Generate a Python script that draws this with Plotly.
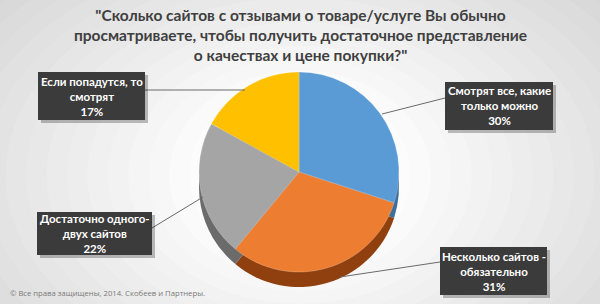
import plotly.graph_objects as go

W, H = 600, 304

categories = ["Смотрят все, какие<br>только можно", "Несколько сайтов -<br>обязательно",
              "Достаточно одного-<br>двух сайтов", "Если попадутся, то<br>смотрят"]
values = [30, 31, 22, 17]
colors = ["#5B9BD5", "#ED7D31", "#A5A5A5", "#FFC000"]
side_colors = ["#3e6f9c", "#8f400e", "#6b6b6b", "#a87f00"]
title_lines = ["\"Сколько сайтов с отзывами о товаре/услуге Вы обычно",
               "просматриваете, чтобы получить достаточное представление",
               "о качествах и цене покупки?\""]
footer = "© Все права защищены, 2014. Скобеев и Партнеры."

def px(x):
    return x / W

def py(y):
    return 1 - y / H

cx, cy, r, depth = 299, 172, 100, 15

fig = go.Figure()
# 3D side (shadow pie)
fig.add_trace(go.Pie(values=values, labels=categories, sort=False, direction="clockwise", rotation=0,
                     marker=dict(colors=side_colors, line=dict(width=0)), textinfo="none",
                     hoverinfo="skip", showlegend=False,
                     domain=dict(x=[px(cx - r), px(cx + r)], y=[py(cy + depth + r), py(cy + depth - r)])))
fig.add_trace(go.Pie(values=values, labels=categories, sort=False, direction="clockwise", rotation=0,
                     marker=dict(colors=colors, line=dict(width=0.6, color="rgba(255,255,255,0.35)")),
                     textinfo="none", hoverinfo="label+percent", showlegend=False,
                     domain=dict(x=[px(cx - r), px(cx + r)], y=[py(cy + r), py(cy - r)])))

shapes = []
# radial background gradient
N = 24
for i in range(N):
    t = i / (N - 1)
    rx = 560 - t * 470
    ry = 360 - t * 280
    c = int(0xc6 + (0xff - 0xc6) * t)
    col = f"rgb({c},{c},{c})"
    shapes.append(dict(type="circle", xref="paper", yref="paper", layer="below",
                       x0=px(300 - rx), x1=px(300 + rx), y0=py(175 + ry), y1=py(175 - ry),
                       fillcolor=col, line=dict(width=0)))

# leader lines
leaders = [((445, 98), (382, 114)), ((440, 262), (340, 277)),
           ((152, 228), (203, 197)), ((145, 90), (245, 90))]
for (x0, y0), (x1, y1) in leaders:
    shapes.append(dict(type="line", xref="paper", yref="paper", x0=px(x0), y0=py(y0), x1=px(x1), y1=py(y1),
                       line=dict(color="#6a6a6a", width=1)))

# label boxes: (x0, y0, x1, y1)
boxes = [(445, 82, 553, 130), (440, 247, 547, 295), (37, 212, 152, 255), (38, 72, 145, 120)]
annotations = []
for (x0, y0, x1, y1), cat, v in zip(boxes, categories, values):
    shapes.append(dict(type="rect", xref="paper", yref="paper", x0=px(x0 + 3), x1=px(x1 + 3),
                       y0=py(y1 + 3), y1=py(y0 + 3), fillcolor="rgba(0,0,0,0.25)", line=dict(width=0)))
    shapes.append(dict(type="rect", xref="paper", yref="paper", x0=px(x0), x1=px(x1),
                       y0=py(y1), y1=py(y0), fillcolor="#3b3b3b", line=dict(width=0)))
    annotations.append(dict(xref="paper", yref="paper", x=px((x0 + x1) / 2), y=py((y0 + y1) / 2),
                            xanchor="center", yanchor="middle", showarrow=False, align="center",
                            text=f"<b>{cat}<br>{v}%</b>",
                            font=dict(family="Lato, 'Open Sans', sans-serif", size=11.5, color="white")))

annotations.append(dict(xref="paper", yref="paper", x=0.5, y=py(35), xanchor="center",
                        yanchor="middle", showarrow=False, align="center",
                        text="<b>" + "<br>".join(title_lines) + "</b>",
                        font=dict(family="Lato, sans-serif", size=15.5, color="#3f3f3f")))
annotations.append(dict(xref="paper", yref="paper", x=px(8), y=py(293), xanchor="left", yanchor="middle",
                        showarrow=False, text=footer,
                        font=dict(family="'Open Sans', sans-serif", size=7.7, color="#7a7a7a")))

fig.update_layout(width=W, height=H, margin=dict(l=0, r=0, t=0, b=0), paper_bgcolor="#c6c6c6",
                  plot_bgcolor="rgba(0,0,0,0)", shapes=shapes, annotations=annotations)

fig.write_html("out.html", config={"displayModeBar": False})
